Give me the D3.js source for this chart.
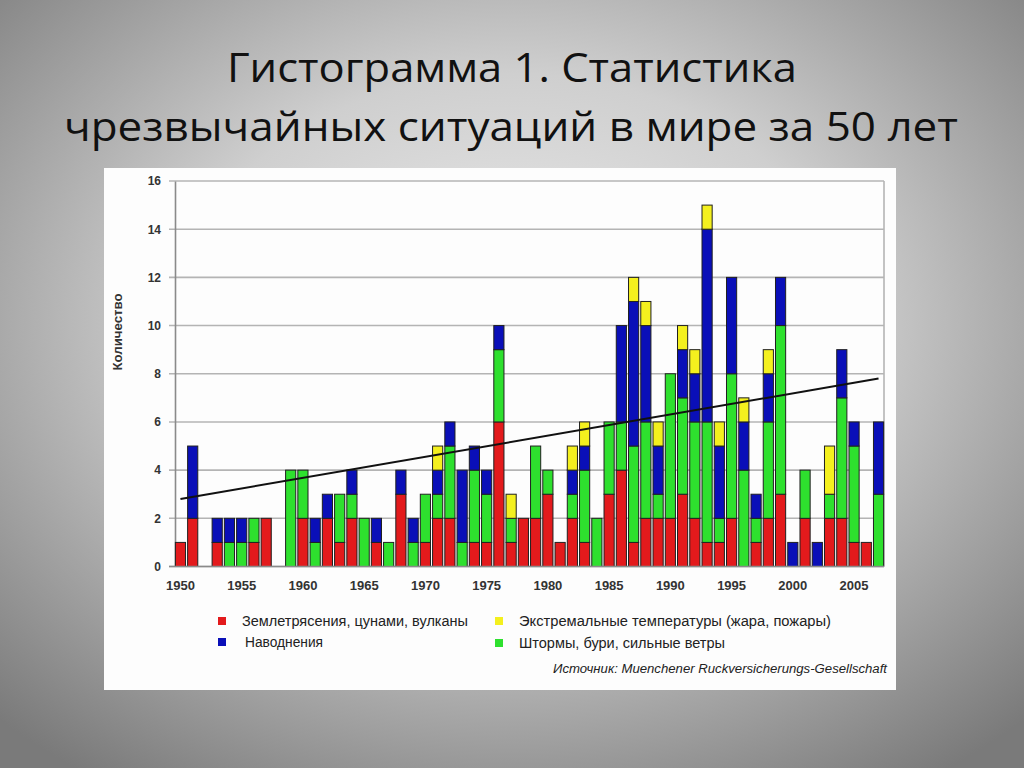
<!DOCTYPE html>
<html>
<head>
<meta charset="utf-8">
<script src="https://cdn.jsdelivr.net/npm/d3@7/dist/d3.min.js"></script>
<style>
html,body{margin:0;padding:0;overflow:hidden;}
svg{display:block;}
</style>
</head>
<body>
<svg id="c" width="1024" height="768"></svg>
<script>
// ---- data ----
const years = [1950,1951,1952,1953,1954,1955,1956,1957,1958,1959,
  1960,1961,1962,1963,1964,1965,1966,1967,1968,1969,
  1970,1971,1972,1973,1974,1975,1976,1977,1978,1979,
  1980,1981,1982,1983,1984,1985,1986,1987,1988,1989,
  1990,1991,1992,1993,1994,1995,1996,1997,1998,1999,
  2000,2001,2002,2003,2004,2005,2006,2007];
const quakes = [1,2,0,1,0,0,1,2,0,0, 2,0,2,1,2,0,1,0,3,0, 1,2,2,0,1,1,6,1,2,2, 3,1,2,1,0,3,4,1,2,2, 2,3,2,1,1,2,0,1,2,3, 0,2,0,2,2,1,1,0];
const storms = [0,0,0,0,1,1,1,0,0,4, 2,1,0,2,1,2,0,1,0,1, 2,1,3,1,3,2,3,1,0,3, 1,0,1,3,2,3,2,4,4,1, 6,4,4,5,1,6,4,1,4,7, 0,2,0,1,5,4,0,3];
const floods = [0,3,0,1,1,1,0,0,0,0, 0,1,1,0,1,0,1,0,1,1, 0,1,1,3,1,1,1,0,0,0, 0,0,1,1,0,0,4,6,4,2, 0,2,2,8,3,4,2,1,2,2, 1,0,1,0,2,1,0,3];
const heat = [0,0,0,0,0,0,0,0,0,0, 0,0,0,0,0,0,0,0,0,0, 0,1,0,0,0,0,0,1,0,0, 0,0,1,1,0,0,0,1,1,1, 0,1,1,1,1,0,1,0,1,0, 0,0,0,2,0,0,0,0];
const trendYears = [1950, 2007];
const trendValues = [2.8, 7.8];
const yTicks = [0,2,4,6,8,10,12,14,16];
const xTickYears = [1950,1955,1960,1965,1970,1975,1980,1985,1990,1995,2000,2005];
const seriesKeys = ["quakes","storms","floods","heat"];
const seriesColors = {quakes:"#e31a1c", storms:"#2ee02e", floods:"#0a0fb8", heat:"#f4f01e"};
const legendItems = [
  {key:"quakes", label:"Землетрясения, цунами, вулканы"},
  {key:"floods", label:"Наводнения"},
  {key:"heat", label:"Экстремальные температуры (жара, пожары)"},
  {key:"storms", label:"Штормы, бури, сильные ветры"}
];
const titleLines = ["Гистограмма 1. Статистика", "чрезвычайных ситуаций в мире за 50 лет"];
const yLabel = "Количество";
const sourceText = "Источник: Muenchener Ruckversicherungs-Gesellschaft";

// ---- drawing ----
const svg = d3.select("#c");
const defs = svg.append("defs");
const rg = defs.append("radialGradient").attr("id","bg")
  .attr("cx","50%").attr("cy","42%").attr("r","72%");
rg.append("stop").attr("offset","0%").attr("stop-color","#ececec");
rg.append("stop").attr("offset","45%").attr("stop-color","#cfcfcf");
rg.append("stop").attr("offset","100%").attr("stop-color","#7a7a7a");
svg.append("rect").attr("width",1024).attr("height",768).attr("fill","url(#bg)");

// title
svg.append("text").attr("x",512).attr("y",82).attr("text-anchor","middle")
  .attr("font-family","'Open Sans', 'Noto Sans', sans-serif").attr("font-size",41)
  .attr("fill","#111").attr("textLength",570).attr("lengthAdjust","spacingAndGlyphs")
  .text(titleLines[0]);
svg.append("text").attr("x",511).attr("y",141).attr("text-anchor","middle")
  .attr("font-family","'Open Sans', 'Noto Sans', sans-serif").attr("font-size",41)
  .attr("fill","#111").attr("textLength",894).attr("lengthAdjust","spacingAndGlyphs")
  .text(titleLines[1]);

// chart panel
svg.append("rect").attr("x",104).attr("y",168).attr("width",792).attr("height",522).attr("fill","#fdfdfd");

const table = years.map((y,i)=>({year:y, quakes:quakes[i], storms:storms[i], floods:floods[i], heat:heat[i]}));
const stacked = d3.stack().keys(seriesKeys)(table);

const x = d3.scaleBand().domain(years).range([175,884]).paddingInner(0.17).paddingOuter(0.03);
const y = d3.scaleLinear().domain([0,16]).range([566.5,181]);

// grid
const g = svg.append("g");
g.selectAll("line.grid").data(yTicks).join("line")
  .attr("x1",169).attr("x2",884).attr("y1",d=>y(d)).attr("y2",d=>y(d))
  .attr("stroke","#b4b4b4").attr("stroke-width",1.6);
g.append("line").attr("x1",884).attr("x2",884).attr("y1",y(16)).attr("y2",y(0))
  .attr("stroke","#b4b4b4").attr("stroke-width",1.6);

// y axis
const yAxis = d3.axisLeft(y).tickValues(yTicks).tickSize(0).tickPadding(14);
const ya = svg.append("g").attr("transform","translate(175,0)").call(yAxis);
ya.select(".domain").attr("stroke","#8a8a8a").attr("stroke-width",1.6);
ya.selectAll("text").attr("font-family","'Liberation Sans', Arial, sans-serif")
  .attr("font-size",12).attr("font-weight","bold").attr("fill","#333");

// x axis labels
const xAxis = d3.axisBottom(x).tickValues(xTickYears).tickSize(0).tickPadding(14);
const xa = svg.append("g").attr("transform",`translate(0,${y(0)})`).call(xAxis);
xa.select(".domain").remove();
xa.selectAll("text").attr("font-family","'Liberation Sans', Arial, sans-serif")
  .attr("font-size",13).attr("font-weight","bold").attr("fill","#333");

// bars
svg.append("g").selectAll("g").data(stacked).join("g")
  .attr("fill",d=>seriesColors[d.key])
  .selectAll("rect").data(d=>d.filter(s=>s[1]>s[0])).join("rect")
  .attr("x",d=>x(d.data.year)).attr("width",x.bandwidth())
  .attr("y",d=>y(d[1])).attr("height",d=>y(d[0])-y(d[1]))
  .attr("stroke","#202020").attr("stroke-width",1);

// bottom axis line
svg.append("line").attr("x1",169).attr("x2",884).attr("y1",y(0)).attr("y2",y(0))
  .attr("stroke","#8a8a8a").attr("stroke-width",1.6);

// trend
const line = d3.line().x(d=>x(d[0])+x.bandwidth()/2).y(d=>y(d[1]));
svg.append("path").datum(trendYears.map((t,i)=>[t,trendValues[i]]))
  .attr("d",line).attr("fill","none").attr("stroke","#111").attr("stroke-width",2);

// y label
svg.append("text").attr("transform","translate(122,332) rotate(-90)")
  .attr("text-anchor","middle").attr("font-family","'Liberation Sans', Arial, sans-serif")
  .attr("font-size",12).attr("font-weight","bold").attr("fill","#333")
  .attr("textLength",77).attr("lengthAdjust","spacingAndGlyphs").text(yLabel);

// legend
const legPos = [[218,621],[218,642],[495,621],[495,643]];
const legLen = [226, 78, 312, 206];
const leg = svg.append("g").selectAll("g").data(legendItems).join("g")
  .attr("transform",(d,i)=>`translate(${legPos[i][0]},${legPos[i][1]})`);
leg.append("rect").attr("x",0).attr("y",-4).attr("width",8).attr("height",8)
  .attr("fill",d=>seriesColors[d.key]);
leg.append("text").attr("x",(d,i)=>i===1?27:24).attr("y",5)
  .attr("font-family","'Liberation Sans', Arial, sans-serif").attr("font-size",14)
  .attr("fill","#222")
  .attr("textLength",(d,i)=>legLen[i]).attr("lengthAdjust","spacingAndGlyphs")
  .text(d=>d.label);

svg.append("text").attr("x",887).attr("y",673).attr("text-anchor","end")
  .attr("font-family","'Liberation Sans', Arial, sans-serif").attr("font-size",12)
  .attr("font-style","italic").attr("fill","#222")
  .attr("textLength",334).attr("lengthAdjust","spacingAndGlyphs").text(sourceText);
</script>
</body>
</html>
